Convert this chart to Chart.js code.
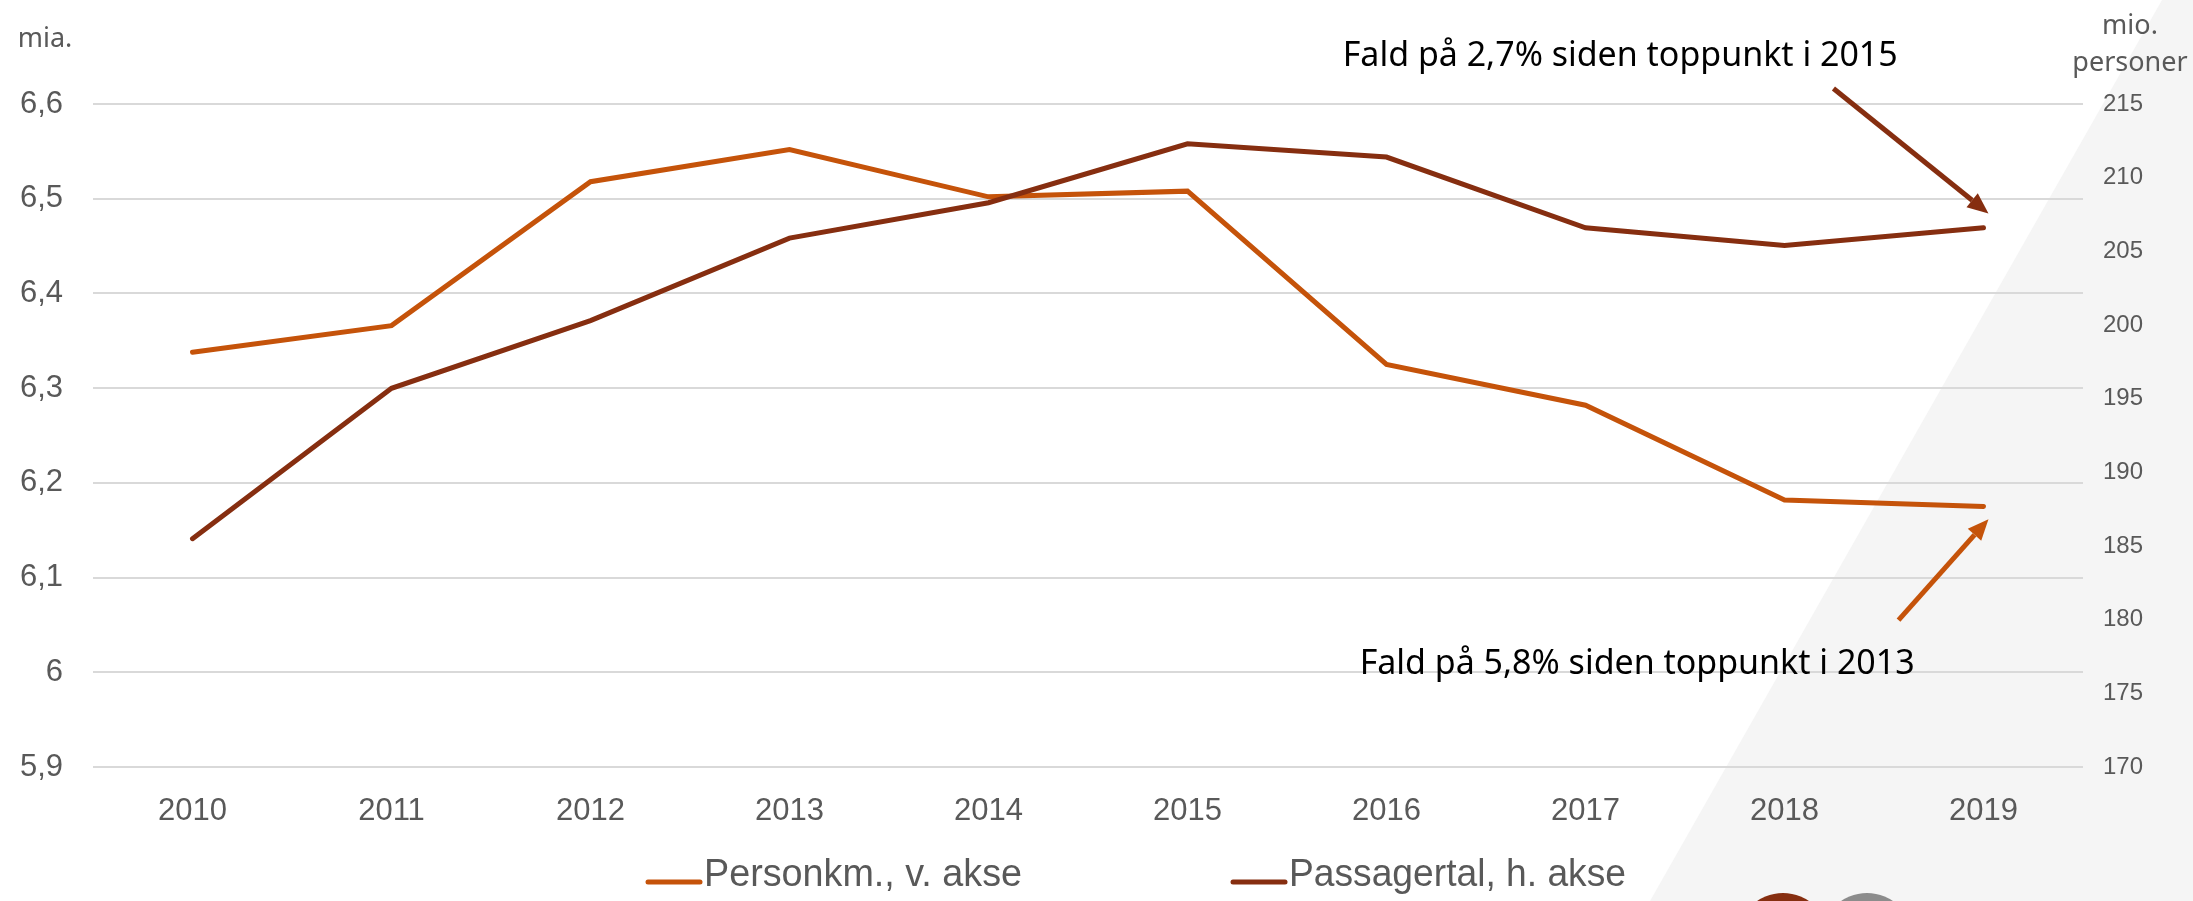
<!DOCTYPE html>
<html>
<head>
<meta charset="utf-8">
<script src="https://cdn.jsdelivr.net/npm/chart.js@4.4.1/dist/chart.umd.min.js"></script>
<style>
  body { margin: 0; background: #fff; }
  #wrap { width: 2193px; height: 901px; }
</style>
</head>
<body>
<div id="wrap"><canvas id="chart" width="2193" height="901"></canvas></div>
<script>
const years = ["2010", "2011", "2012", "2013", "2014", "2015", "2016", "2017", "2018", "2019"];
const personkm = [6.338, 6.366, 6.518, 6.552, 6.502, 6.508, 6.325, 6.282, 6.182, 6.175];
const passagertal = [185.5, 195.7, 200.3, 205.9, 208.3, 212.3, 211.4, 206.6, 205.4, 206.6];
const leftTicks = ["5,9", "6", "6,1", "6,2", "6,3", "6,4", "6,5", "6,6"];
const rightTicks = ["170", "175", "180", "185", "190", "195", "200", "205", "210", "215"];
const seriesNames = ["Personkm., v. akse", "Passagertal, h. akse"];

const ORANGE = "#C5530A";
const BROWN = "#862E10";
const GREY_TXT = "#595959";

// annotations in data units (x = category index, y = right axis)
const notes = [
  { text: "Fald på 2,7% siden toppunkt i 2015", x: 5.78, y: 217.6 },
  { text: "Fald på 5,8% siden toppunkt i 2013", x: 5.865, y: 176.3 }
];
const arrows = [
  { from: [8.246, 216.05], to: [9.025, 207.57], color: BROWN },
  { from: [8.573, 179.97], to: [9.025, 186.82], color: ORANGE }
];

const decor = {
  id: "decor",
  beforeDraw(chart) {
    const ctx = chart.ctx;
    ctx.save();
    ctx.fillStyle = "#fff";
    ctx.fillRect(0, 0, chart.width, chart.height);
    ctx.fillStyle = "#F5F5F5";
    ctx.beginPath();
    ctx.moveTo(2162, 0);
    ctx.lineTo(chart.width, 0);
    ctx.lineTo(chart.width, chart.height);
    ctx.lineTo(1650, chart.height);
    ctx.closePath();
    ctx.fill();
    ctx.restore();
  },
  afterDraw(chart) {
    const ctx = chart.ctx;
    const xs = chart.scales.x, yr = chart.scales.y1;
    ctx.save();

    // axis titles
    ctx.fillStyle = GREY_TXT;
    ctx.font = "27px 'Noto Sans'";
    ctx.textAlign = "center";
    ctx.textBaseline = "alphabetic";
    ctx.fillText("mia.", 45, 47);
    ctx.fillText("mio.", 2130, 34);
    ctx.fillText("personer", 2130, 71);

    // annotation texts
    ctx.fillStyle = "#000";
    ctx.font = "35px 'Noto Sans'";
    ctx.textAlign = "left";
    notes.forEach(n => {
      ctx.fillText(n.text, xs.getPixelForValue(n.x), yr.getPixelForValue(n.y), 555);
    });

    // arrows
    arrows.forEach(a => {
      const x0 = xs.getPixelForValue(a.from[0]), y0 = yr.getPixelForValue(a.from[1]);
      const x1 = xs.getPixelForValue(a.to[0]), y1 = yr.getPixelForValue(a.to[1]);
      const ang = Math.atan2(y1 - y0, x1 - x0);
      const head = 21, half = 9;
      ctx.strokeStyle = a.color;
      ctx.fillStyle = a.color;
      ctx.lineWidth = 5;
      ctx.beginPath();
      ctx.moveTo(x0, y0);
      ctx.lineTo(x1 - Math.cos(ang) * head, y1 - Math.sin(ang) * head);
      ctx.stroke();
      const bx = x1 - Math.cos(ang) * head, by = y1 - Math.sin(ang) * head;
      ctx.beginPath();
      ctx.moveTo(x1, y1);
      ctx.lineTo(bx + Math.sin(ang) * half, by - Math.cos(ang) * half);
      ctx.lineTo(bx - Math.sin(ang) * half, by + Math.cos(ang) * half);
      ctx.closePath();
      ctx.fill();
    });

    // legend
    const items = [
      { name: seriesNames[0], color: ORANGE, x: 646 },
      { name: seriesNames[1], color: BROWN, x: 1231 }
    ];
    ctx.font = "38px 'Liberation Sans', Arial, sans-serif";
    items.forEach(it => {
      ctx.strokeStyle = it.color;
      ctx.lineWidth = 5;
      ctx.lineCap = "round";
      ctx.beginPath();
      ctx.moveTo(it.x + 2, 882);
      ctx.lineTo(it.x + 54, 882);
      ctx.stroke();
      ctx.fillStyle = GREY_TXT;
      ctx.fillText(it.name, it.x + 58, 886, it.name.length > 18 ? 337 : 318);
    });

    // logo dots at the bottom
    ctx.fillStyle = "#862E10";
    ctx.beginPath(); ctx.arc(1783, 939, 46, 0, Math.PI * 2); ctx.fill();
    ctx.fillStyle = "#8C8C8C";
    ctx.beginPath(); ctx.arc(1867, 939, 46, 0, Math.PI * 2); ctx.fill();
    ctx.restore();
  }
};

new Chart(document.getElementById("chart").getContext("2d"), {
  type: "line",
  data: {
    labels: years,
    datasets: [
      {
        label: seriesNames[0],
        data: personkm,
        yAxisID: "y",
        borderColor: ORANGE,
        borderWidth: 5,
        borderCapStyle: "round",
        pointRadius: 0,
        tension: 0,
        order: 1
      },
      {
        label: seriesNames[1],
        data: passagertal,
        yAxisID: "y1",
        borderColor: BROWN,
        borderWidth: 5,
        borderCapStyle: "round",
        pointRadius: 0,
        tension: 0,
        order: 0
      }
    ]
  },
  options: {
    responsive: false,
    animation: false,
    layout: { padding: { top: 104, bottom: 74, left: 0, right: 0 } },
    plugins: {
      legend: { display: false },
      tooltip: { enabled: false }
    },
    scales: {
      x: {
        offset: true,
        grid: { display: false },
        border: { display: false },
        ticks: {
          color: GREY_TXT,
          font: { family: "'Liberation Sans', Arial", size: 31 },
          padding: 18,
          maxRotation: 0
        },
        afterFit(s) { s.height = 60; }
      },
      y: {
        position: "left",
        min: 5.9,
        max: 6.6,
        grid: { color: "#D9D9D9", lineWidth: 2, drawTicks: false, tickLength: 0 },
        border: { display: false },
        ticks: {
          stepSize: 0.1,
          color: GREY_TXT,
          font: { family: "'Liberation Sans', Arial", size: 31 },
          padding: 30,
          callback: (v, i) => leftTicks[i]
        },
        afterFit(s) { s.width = 93; }
      },
      y1: {
        position: "right",
        min: 170,
        max: 215,
        grid: { display: false, drawTicks: false, tickLength: 0 },
        border: { display: false },
        ticks: {
          stepSize: 5,
          color: GREY_TXT,
          font: { family: "'Liberation Sans', Arial", size: 24 },
          padding: 20,
          callback: (v, i) => rightTicks[i]
        },
        afterFit(s) { s.width = 110; }
      }
    }
  },
  plugins: [decor]
});
</script>
</body>
</html>
